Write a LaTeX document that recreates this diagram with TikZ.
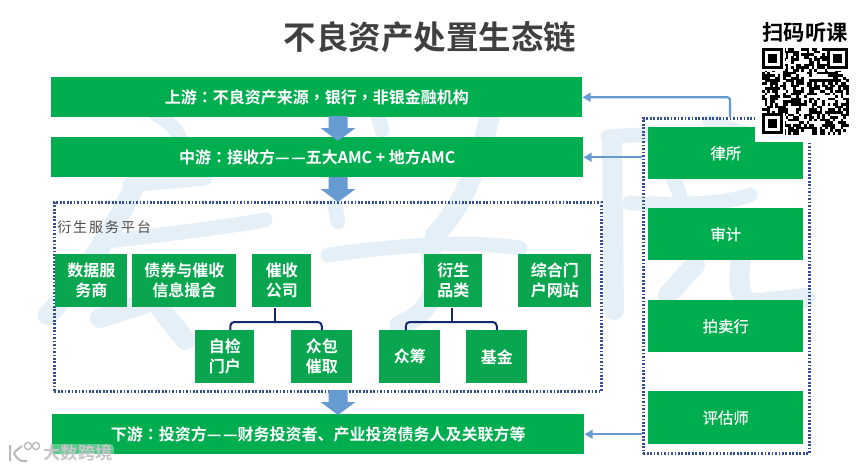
\documentclass[tikz,border=0pt]{standalone}
\usepackage{fontspec}
\setmainfont{Noto Sans CJK SC}[BoldFont={Noto Sans CJK SC Bold}]
\newfontfamily\tcf{Noto Sans CJK TC}[BoldFont={Noto Sans CJK TC Bold}]
\newfontfamily\semif{Noto Sans CJK SC}[FakeBold=0.6]
\usetikzlibrary{arrows.meta,calc}
\definecolor{gr}{HTML}{00AD4F}
\definecolor{grb}{HTML}{0AA64F}
\definecolor{dotb}{HTML}{34508F}
\definecolor{linkb}{HTML}{659BD0}
\definecolor{tree}{HTML}{14296B}
\definecolor{wm}{HTML}{E4EFF8}
\newcommand{\cln}{{\tcf ：}}
\newcommand{\cma}{{\tcf ，}}
\newcommand{\dsh}{—\kern1.2pt—}
\tikzset{
 px/.style={x=0.75pt,y=-0.75pt},
 box/.style={fill=gr,text=white,font=\bfseries\fontsize{12}{15}\selectfont,align=center,inner sep=0pt,anchor=north west},
 subbox/.style={box,fill=grb},
 sidebox/.style={box,font=\semif\fontsize{11.5}{15}\selectfont},
 frame/.style={draw=dotb,line width=2pt,dash pattern=on 1.3pt off 1.3pt},
 link/.style={draw=linkb,line width=1.7pt,rounded corners=2pt,-{Triangle[width=6.5pt,length=6pt]}},
 branch/.style={draw=tree,line width=1.5pt,rounded corners=3pt},
 wstroke/.style={draw=wm,line width=15pt,line cap=round,line join=round},
 wthin/.style={draw=wm,line width=11pt,line cap=round,line join=round},
}
\newcommand{\bx}[7]{\node[#7,minimum width=#3*0.75pt,minimum height=#4*0.75pt] (#5) at (#1,#2) {#6};}
\newcommand{\darr}[1]{\fill[linkb] (328.5,#1) -- (347.5,#1) -- (347.5,#1+12) -- (355.5,#1+12) -- (338,#1+25) -- (320.5,#1+12) -- (328.5,#1+12) -- cycle;}
\begin{document}
\begin{tikzpicture}[px]
\useasboundingbox (0,0) rectangle (860,469);
\fill[white] (0,0) rectangle (860,469);
% watermark, drawn as brush strokes
\draw[wthin] (155,113) .. controls (165,120) and (175,125) .. (180,140);
\draw[wstroke] (145,160) .. controls (125,215) and (85,275) .. (48,315);
\draw[wthin] (130,185) -- (205,178);
\draw[wthin] (100,242) .. controls (160,235) and (220,228) .. (265,220);
\draw[wstroke] (100,318) .. controls (140,305) and (180,295) .. (205,270);
\draw[wstroke] (155,300) .. controls (165,315) and (178,330) .. (185,340);
\draw[wthin] (335,205) -- (338,222);
\draw[wthin] (375,105) -- (382,130);
\draw[wstroke] (490,115) .. controls (480,160) and (465,205) .. (435,235);
\draw[wthin] (328,255) .. controls (400,245) and (470,240) .. (520,248);
\draw[wstroke] (430,250) .. controls (438,290) and (435,310) .. (400,325);
\draw[wstroke] (612,140) -- (614,310);
\draw[wthin] (608,137) .. controls (650,133) and (680,135) .. (690,150);
\draw[wthin] (668,165) -- (680,195);
\draw[wthin] (630,203) .. controls (680,205) and (720,205) .. (750,195);
\draw[wthin] (710,122) -- (750,135);
\draw[wstroke] (695,265) -- (668,295);
\draw[wstroke] (742,250) .. controls (738,280) and (735,305) .. (760,303) -- (805,298);
% title
\node[font=\bfseries\fontsize{24.4}{28}\selectfont,text=black!75] (title) at (430,37) {不良资产处置生态链};
% frames
\node[frame,minimum width=547*0.75pt,minimum height=189*0.75pt,anchor=north west,inner sep=0pt] (plat) at (53,201) {};
\node[frame,minimum width=166*0.75pt,minimum height=335*0.75pt,anchor=north west,inner sep=0pt] (side) at (642,117) {};
\node[anchor=west,font=\addfontfeature{LetterSpace=14}\fontsize{10.5}{12}\selectfont,text=black!70,inner sep=0pt] (platl) at (57,227) {衍生服务平台};
% bars
\bx{51}{77}{531}{40}{up}{上游\cln 不良资产来源\cma 银行\cma 非银金融机构}{box}
\bx{51}{137}{532}{40}{mid}{中游\cln 接收方\dsh 五大AMC + 地方AMC}{box}
\bx{52}{414}{532}{40}{down}{下游\cln 投资方\dsh 财务投资者、产业投资债务人及关联方等}{box}
% right boxes
\bx{648}{127}{155}{52}{r1}{律所}{sidebox}
\bx{648}{208}{155}{52}{r2}{审计}{sidebox}
\bx{648}{300}{155}{52}{r3}{拍卖行}{sidebox}
\bx{648}{391}{155}{53}{r4}{评估师}{sidebox}
% platform boxes
\bx{55}{254}{72}{53}{a1}{数据服\\务商}{subbox}
\bx{132}{254}{104}{53}{a2}{债券与催收\\信息撮合}{subbox}
\bx{252}{254}{59}{53}{a3}{催收\\公司}{subbox}
\bx{424}{254}{58}{53}{a4}{衍生\\品类}{subbox}
\bx{518}{254}{73}{53}{a5}{综合门\\户网站}{subbox}
\bx{195}{330}{59}{53}{b1}{自检\\门户}{subbox}
\bx{291}{330}{61}{53}{b2}{众包\\催取}{subbox}
\bx{379}{330}{61}{53}{b3}{众筹}{subbox}
\bx{466}{330}{61}{53}{b4}{基金}{subbox}
% tree connectors
\coordinate (c1) at (275,322);
\coordinate (c2) at (452,322);
\draw[branch] ([xshift=5.5*0.75pt]b1.north) |- (c1) -| (b2.north);
\draw[branch] (c1 |- a3.south) -- (c1);
\draw[branch] ([xshift=-4*0.75pt]b3.north) |- (c2) -| (b4.north);
\draw[branch] (c2 |- a4.south) -- (c2);
% down arrows
\darr{116}
\darr{177}
\darr{390}
% links
\coordinate (sidetop) at (730,117);
\draw[link] (sidetop) |- (up.east);
\draw[link] (side.west |- mid.east) -- (mid.east);
\draw[link] (side.west |- down.east) -- (down.east);
% QR
\fill[white] (755,46) rectangle (860,142);
\node[font=\bfseries\fontsize{16}{18}\selectfont,inner sep=0pt] (qrt) at (805,33) {扫码听课};
\pgfmathsetseed{4217}
\foreach \i in {0,...,32}{\foreach \j in {0,...,32}{
  \pgfmathrandominteger{\r}{0}{99}
  \ifnum\r<52 \fill[black] ({762+\i*2.62},{48+\j*2.62}) rectangle ++(2.7,2.7);\fi
}}
\foreach \qx/\qy in {762/48,827/48,762/113}{
  \fill[white] (\qx-0.5,\qy-0.5) rectangle ++(23.5,23.5);
  \fill[black] (\qx,\qy) rectangle ++(21,21);
  \fill[white] (\qx+3,\qy+3) rectangle ++(15,15);
  \fill[black] (\qx+6,\qy+6) rectangle ++(9,9);
}
% corner logo
\fill[white,opacity=.35,rounded corners=3pt] (42,444) rectangle (114,463);
\draw[gray!55,line width=1.5pt,rounded corners=2pt] (10,445) -- (10,461) (22,446) -- (13,453) -- (20,461) -- (27,461);
\draw[gray!55,line width=1pt] (28,446) circle (3.6) (36,446) circle (3.6);
\node[font=\bfseries\fontsize{13}{14}\selectfont,text=gray!45,inner sep=0pt] (logo) at (78,453) {大数跨境};
\end{tikzpicture}
\end{document}
